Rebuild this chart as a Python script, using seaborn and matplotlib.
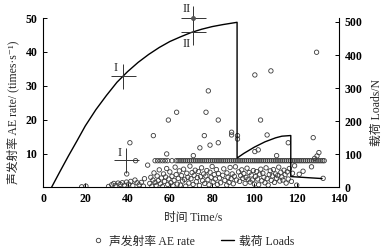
import numpy as np
import pandas as pd
import matplotlib
matplotlib.use("Agg")
import matplotlib.pyplot as plt
from matplotlib.lines import Line2D
import seaborn as sns

# ---------------- data ----------------
# AE rate scatter (time s, times/s) : scattered events
ae_x = [18.3, 20.3,
        31.0, 32.5, 33.5, 34.5, 35.5, 36.5, 37.5, 38.5, 39.5, 40.5, 41.5, 42.5, 43.5, 44.5, 45.5, 46.5, 47.5, 48.0,
        50.5, 51.0, 51.5, 52.0, 52.5, 53.0, 53.5, 54.0, 54.5, 55.0, 55.5, 56.0, 56.5, 57.0, 57.5, 58.0, 58.5, 59.0,
        59.5, 60.0, 60.5, 61.0, 61.5, 62.0, 62.5, 63.0, 63.5, 64.0, 64.5, 65.0, 65.5, 66.0, 66.5, 67.0, 67.5, 68.0,
        68.5, 69.0, 69.5, 70.0, 70.5, 71.0, 71.5, 72.0, 72.5, 73.0, 73.5, 74.0, 74.5, 75.0, 75.5, 76.0, 76.5, 77.0,
        77.5, 78.0, 78.5, 79.0, 79.5, 80.0, 80.5, 81.0, 81.5, 82.0, 82.5, 83.0, 83.5, 84.0, 85.0, 85.5, 86.0, 86.9,
        87.0, 87.5, 88.0, 88.5, 89.0, 89.5, 90.0, 90.5, 91.0, 91.5, 92.5, 93.0, 93.5, 94.0, 94.5, 95.0, 95.6, 96.0,
        96.5, 97.0, 97.5, 98.0, 98.5, 99.0, 99.5, 100.0, 100.5, 101.0, 101.5, 102.0, 102.5, 103.0, 103.5, 104.0,
        104.5, 105.0, 105.5, 106.0, 106.5, 107.0, 107.5, 108.0, 108.5, 109.0, 109.5, 110.0, 110.5, 111.0, 111.5,
        112.0, 112.5, 113.0, 113.5, 114.0, 114.5, 115.0, 115.5, 116.0, 116.5, 117.5, 118.0, 119.0, 120.0, 121.2,
        123.0, 127.0, 128.5, 129.6, 130.5, 132.5,
        # higher events
        39.6, 41.1, 43.8, 49.5, 52.2, 58.5, 59.3, 63.2, 71.1, 74.2, 76.3, 77.1, 78.2, 79.0, 82.9, 82.9, 89.2, 89.2,
        92.0, 92.0, 100.2, 100.2, 101.8, 102.9, 106.0, 107.8, 110.5, 116.0, 127.8, 129.4]
ae_y = [0.2, 0.4,
        0.3, 0.8, 1.2, 0.6, 1.3, 0.9, 1.4, 0.7, 1.6, 1.0, 1.8, 0.5, 2.2, 1.4, 0.8, 1.5, 0.4, 2.6,
        1.2, 3.0, 0.4, 2.2, 4.3, 1.5, 0.6, 3.4, 2.0, 5.2, 1.1, 2.8, 0.3, 4.0, 1.8, 3.1, 5.6, 0.9,
        2.5, 4.6, 1.4, 3.3, 0.5, 2.1, 6.0, 3.8, 1.0, 2.7, 4.9, 0.7, 3.5, 1.9, 5.4, 2.4, 0.4, 4.2,
        3.0, 1.3, 6.3, 2.6, 4.4, 0.9, 3.6, 5.1, 1.7, 2.9, 4.7, 0.6, 3.2, 5.8, 2.0, 4.0, 1.2, 3.4,
        5.0, 2.3, 0.8, 4.5, 3.0, 6.2, 1.6, 3.8, 2.5, 5.3, 0.9, 4.1, 2.8, 1.4, 3.6, 5.5, 2.1, 0.7,
        4.3, 3.0, 1.5, 5.9, 2.6, 4.0, 1.1, 3.3, 6.1, 2.2, 4.6, 1.8, 3.5, 5.2, 2.7, 4.1, 1.2, 3.0,
        5.7, 2.4, 4.4, 1.6, 3.7, 2.2, 5.0, 1.0, 3.2, 4.7, 2.5, 0.8, 3.9, 5.4, 2.0, 4.2,
        3.0, 1.4, 5.8, 2.6, 0.7, 3.8, 4.9, 2.1, 3.4, 5.3, 1.5, 4.0, 2.7, 3.5, 6.0,
        1.9, 4.5, 3.1, 2.2, 5.1, 3.8, 1.3, 4.6, 2.5, 5.6, 1.8, 4.2, 6.4, 0.7, 3.9,
        4.8, 6.1, 8.6, 9.3, 10.3, 2.7,
        4.0, 13.2, 7.9, 6.6, 15.3, 9.9, 19.9, 22.2, 9.4, 11.7, 15.3, 22.2, 28.5, 12.5, 19.9, 13.2, 16.3, 15.5,
        15.3, 14.3, 33.2, 10.6, 11.1, 19.9, 15.5, 34.4, 9.4, 13.2, 14.7, 39.9]

# AE rate plateau events (time s) at about 8 times/s
plateau_x = [53.0, 54.2, 55.4, 56.6, 57.8, 59.0, 61.0, 63.0, 63.9, 64.8, 65.7, 66.6, 67.5, 68.4, 69.3, 70.2,
             71.1, 72.0, 72.9, 73.8, 74.7, 75.6, 76.5, 77.4, 78.3, 79.2, 80.1, 81.0, 81.9, 82.8, 83.7, 84.6,
             85.5, 86.4, 87.3, 88.2, 89.1, 90.0, 90.9, 91.8, 92.7, 93.6, 94.5, 95.4, 96.3, 97.2, 98.1, 99.0,
             99.9, 100.8, 101.7, 102.6, 103.5, 104.4, 105.3, 106.2, 107.1, 108.0, 108.9, 109.8, 110.7, 111.6,
             112.5, 113.4, 114.3, 115.2, 116.1, 117.0, 117.9, 118.8, 119.7, 120.6, 121.5, 122.4, 123.3, 124.2,
             125.1, 126.0, 126.9, 127.8, 128.7, 129.6, 130.5, 131.4, 132.3, 133.0]
plateau_level = 7.9

# Load curve (time s, load N)
load_x = [4, 8, 12, 16, 20, 25, 30, 35, 40, 45, 50, 55, 60, 65, 70, 75, 80, 85, 91.8,
          91.8, 95, 100, 105, 110, 113, 117.2, 117.2, 122, 127, 132]
load_y = [0, 48, 95, 140, 186, 235, 278, 318, 350, 378, 402, 423, 441, 455, 468, 478, 486, 492, 499,
          89, 103, 122, 138, 150, 155, 157, 33, 31, 29, 27]

# characteristic points (stage marks)
ae_marks_x = [39.2, 71.1]
ae_marks_y = [8.2, 50.0]
ae_marks_lab = ["I", "II"]
load_marks_x = [37.7, 71.1]
load_marks_y = [338, 470]
load_marks_lab = ["I", "II"]

x_ticks = [0, 20, 40, 60, 80, 100, 120, 140]
left_ticks = [10, 20, 30, 40, 50]
right_ticks = [0, 100, 200, 300, 400, 500]

# ---------------- style ----------------
sns.set_theme(style="ticks")
FAM = ["Liberation Serif", "Noto Sans CJK SC", "DejaVu Sans"]
plt.rcParams["font.family"] = FAM
plt.rcParams["axes.unicode_minus"] = False

fig = plt.figure(figsize=(3.86, 2.49), dpi=100)
ax = fig.add_axes([0.1114, 0.247, 0.7668, 0.6807])
ax2 = ax.twinx()

ae_df = pd.DataFrame({"t": ae_x, "r": ae_y})
pl_df = pd.DataFrame({"t": plateau_x})
pl_df["r"] = plateau_level
ld_df = pd.DataFrame({"t": load_x, "f": load_y})

mk = dict(s=10, marker="o", facecolor="none", edgecolor="#3a3a3a", linewidth=0.6, legend=False)
sns.scatterplot(data=ae_df, x="t", y="r", ax=ax, **mk)
sns.scatterplot(data=pl_df, x="t", y="r", ax=ax, **mk)

sns.lineplot(data=ld_df, x="t", y="f", ax=ax2, sort=False, estimator=None,
             color="black", linewidth=1.0)

ax.set_xlim(0, 140)
ax.set_ylim(0, 50)
ax2.set_ylim(0, 512)
ax.set_xticks(x_ticks)
ax.set_yticks(left_ticks)
ax2.set_yticks(right_ticks)
ax.set_xlabel("")
ax.set_ylabel("")
ax2.set_ylabel("")

for a in (ax, ax2):
    a.spines["top"].set_visible(False)
    for s in a.spines.values():
        s.set_linewidth(0.8)
        s.set_color("black")
    a.tick_params(direction="in", length=3, width=0.7, colors="black", labelsize=8.5, pad=4)
ax.spines["right"].set_visible(False)
ax2.spines["left"].set_visible(False)
ax2.spines["bottom"].set_visible(False)
for lab in ax.get_xticklabels() + ax.get_yticklabels() + ax2.get_yticklabels():
    lab.set_fontweight("bold")

# stage crosses
cross = dict(marker="+", markersize=18, mew=0.7, color="#333333", linestyle="none", clip_on=False, zorder=5)
ax.plot(ae_marks_x, ae_marks_y, **cross)
ax.plot(ae_marks_x[1:], ae_marks_y[1:], marker="o", markersize=2.5, color="#555555",
        linestyle="none", clip_on=False, zorder=6)
ax2.plot(load_marks_x, load_marks_y, **cross)

lab_kw = dict(textcoords="offset points", ha="center", va="center", fontsize=9,
              family=["Liberation Serif"], annotation_clip=False, color="#222222")
ax.annotate(ae_marks_lab[0], (ae_marks_x[0], ae_marks_y[0]), xytext=(-4.5, 5), **lab_kw)
ax.annotate(ae_marks_lab[1], (ae_marks_x[1], ae_marks_y[1]), xytext=(-4.8, 6.5), **lab_kw)
ax2.annotate(load_marks_lab[0], (load_marks_x[0], load_marks_y[0]), xytext=(-4.8, 5.5), **lab_kw)
ax2.annotate(load_marks_lab[1], (load_marks_x[1], load_marks_y[1]), xytext=(-4.8, -8.5), **lab_kw)

# axis titles
fig.text(193 / 386, 1 - 217.5 / 249, "时间 Time/s", ha="center", va="center", fontsize=8.5, family=FAM)
fig.text(13 / 386, 1 - 112 / 249, "声发射率 AE rate/ (times·s⁻¹)", rotation=90,
         ha="center", va="center", fontsize=8.5, family=FAM)
fig.text(377 / 386, 1 - 112 / 249, "载荷 Loads/N", rotation=90,
         ha="center", va="center", fontsize=8.5, family=FAM)

handles = [Line2D([], [], marker="o", markersize=3.2, markerfacecolor="none", markeredgecolor="#3a3a3a",
                  markeredgewidth=0.6, linestyle="none"),
           Line2D([], [], color="black", linewidth=1.0)]
fig.legend(handles, ["声发射率 AE rate", "载荷 Loads"], loc="center", bbox_to_anchor=(0.5, 0.03),
           ncol=2, frameon=False, handlelength=1.1, handletextpad=0.4,
           columnspacing=2.2, prop={"family": FAM, "size": 8.5})

fig.savefig("out.png", dpi=100)
